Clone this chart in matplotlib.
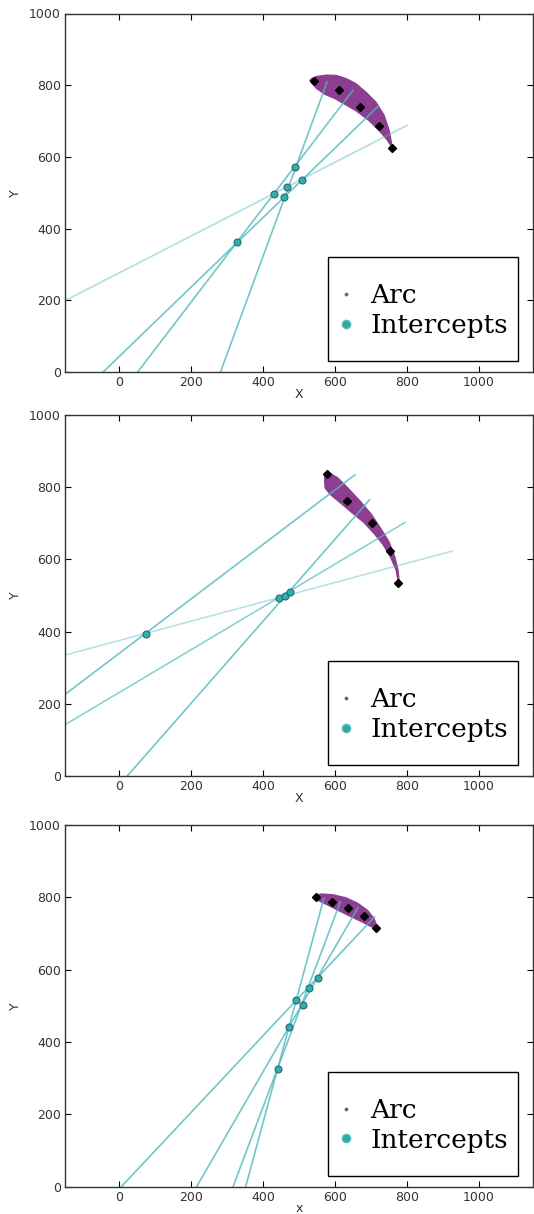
import matplotlib
matplotlib.use('Agg')
import matplotlib.pyplot as plt
from matplotlib.lines import Line2D
from matplotlib.patches import Rectangle

# ---- panel 1 ----
arc1_x = [542, 610, 669, 722, 757]
arc1_y = [812, 787, 740, 687, 624]
band1_outer_x = [528, 534, 548, 576, 604, 632, 659, 687, 715, 738, 752, 759, 759]
band1_outer_y = [813, 820, 826, 830, 829, 820, 806, 782, 754, 717, 675, 638, 622]
band1_inner_x = [743, 719, 692, 659, 632, 599, 571, 548, 534]
band1_inner_y = [647, 675, 701, 726, 742, 761, 773, 789, 806]
lines1_x0 = [282, 52, -44, -150]
lines1_y0 = [0, 0, 0, 199]
lines1_x1 = [578, 650, 719, 800]
lines1_y1 = [809, 786, 740, 688]
lines1_alpha = [0.8, 0.8, 0.8, 0.45]
icpt1_x = [490, 508, 468, 431, 459, 329]
icpt1_y = [571, 536, 516, 497, 488, 364]

# ---- panel 2 ----
arc2_x = [579, 634, 704, 752, 775]
arc2_y = [836, 763, 701, 624, 536]
band2_outer_x = [571, 585, 608, 636, 669, 701, 729, 752, 768, 777, 780]
band2_outer_y = [841, 841, 828, 800, 765, 728, 686, 649, 607, 570, 538]
band2_inner_x = [775, 768, 752, 732, 706, 678, 646, 613, 585, 571, 569]
band2_inner_y = [533, 570, 607, 640, 672, 702, 728, 756, 779, 797, 820]
lines2_x0 = [-150, -150, 23, -150]
lines2_y0 = [226, 142, 0, 335]
lines2_x1 = [655, 794, 696, 925]
lines2_y1 = [834, 702, 765, 623]
lines2_alpha = [0.8, 0.65, 0.8, 0.4]
icpt2_x = [75, 444, 461, 475]
icpt2_y = [394, 493, 499, 511]

# ---- panel 3 ----
arc3_x = [547, 593, 637, 680, 715]
arc3_y = [800, 788, 771, 748, 714]
band3_outer_x = [541, 562, 594, 632, 664, 692, 710, 719]
band3_outer_y = [806, 811, 809, 800, 785, 765, 742, 719]
band3_inner_x = [715, 696, 669, 641, 613, 585, 562, 544]
band3_inner_y = [711, 719, 733, 746, 760, 774, 785, 794]
lines3_x0 = [7, 216, 317, 352]
lines3_y0 = [0, 0, 0, 0]
lines3_x1 = [710, 664, 615, 569]
lines3_y1 = [746, 772, 788, 797]
lines3_alpha = [0.8, 0.8, 0.8, 0.8]
icpt3_x = [552, 527, 493, 510, 472, 441]
icpt3_y = [576, 549, 515, 503, 440, 326]

panels = [
    (arc1_x, arc1_y, band1_outer_x + band1_inner_x, band1_outer_y + band1_inner_y,
     lines1_x0, lines1_y0, lines1_x1, lines1_y1, lines1_alpha, icpt1_x, icpt1_y, 'X'),
    (arc2_x, arc2_y, band2_outer_x + band2_inner_x, band2_outer_y + band2_inner_y,
     lines2_x0, lines2_y0, lines2_x1, lines2_y1, lines2_alpha, icpt2_x, icpt2_y, 'X'),
    (arc3_x, arc3_y, band3_outer_x + band3_inner_x, band3_outer_y + band3_inner_y,
     lines3_x0, lines3_y0, lines3_x1, lines3_y1, lines3_alpha, icpt3_x, icpt3_y, 'x'),
]

# axes boxes in pixels (left, top, right, bottom)
W, H = 534, 1214
boxes = [(65, 13.5, 533, 372), (65, 415, 533, 776), (65, 825, 533, 1186.5)]

band_color = '#8d3e91'
line_color = '#4fb8bd'
icpt_face = '#2fb0b0'
icpt_edge = '#2a6a6a'

fig = plt.figure(figsize=(W / 100, H / 100), dpi=100)

for (ax_, ay_, bx, by, x0, y0, x1, y1, alphas, ix, iy, xlab), box in zip(panels, boxes):
    l, t, r, b = box
    ax = fig.add_axes([l / W, 1 - b / H, (r - l) / W, (b - t) / H])

    # arc band
    ax.fill(bx, by, color=band_color, lw=0, zorder=1)

    # fitted lines
    for xa, ya, xb, yb, al in zip(x0, y0, x1, y1, alphas):
        ax.plot([xa, xb], [ya, yb], color=line_color, lw=1.2, alpha=al, zorder=2)

    # arc sample points and intercepts
    ax.plot(ax_, ay_, 'D', color='black', ms=4.5, zorder=3)
    ax.plot(ix, iy, 'o', mfc=icpt_face, mec=icpt_edge, mew=0.8, ms=5, zorder=4)

    ax.set_xlim(-150, 1150)
    ax.set_ylim(0, 1000)
    ax.set_xticks(range(0, 1001, 200))
    ax.set_yticks(range(0, 1001, 200))
    ax.tick_params(direction='in', top=True, right=True, length=4, width=0.8,
                   labelsize=9, labelcolor='#333333', pad=3)
    for s in ax.spines.values():
        s.set_linewidth(1.0)
        s.set_color('#333333')
    ax.set_xlabel(xlab, fontsize=9, color='#333333', labelpad=-1)
    ax.set_ylabel('Y', fontsize=9, color='#333333', labelpad=5)

    # legend frame drawn as a box, legend itself without frame
    aw, ah = r - l, b - t
    fx0, fx1 = (328 - l) / aw, (518 - l) / aw
    fy0, fy1 = 11 / ah, 115 / ah
    ax.add_patch(Rectangle((fx0, fy0), fx1 - fx0, fy1 - fy0, transform=ax.transAxes,
                           fill=True, facecolor='white', edgecolor='black', lw=1.0, zorder=5))
    handles = [
        Line2D([], [], ls='none', marker='.', color='#8a4f9e', ms=3.5),
        Line2D([], [], ls='none', marker='o', mfc='#2fa8a8', mec='#5fbcbc', ms=6),
    ]
    leg = ax.legend(handles, ['Arc', 'Intercepts'], loc='center',
                    bbox_to_anchor=((fx0 + fx1) / 2, (fy0 + fy1) / 2 - 0.005),
                    frameon=False, prop={'family': 'DejaVu Serif', 'size': 19},
                    handlelength=0.6, handletextpad=0.6, labelspacing=0.18,
                    borderpad=0.2, numpoints=1)
    leg.set_zorder(6)

fig.savefig('out.png', dpi=100)
